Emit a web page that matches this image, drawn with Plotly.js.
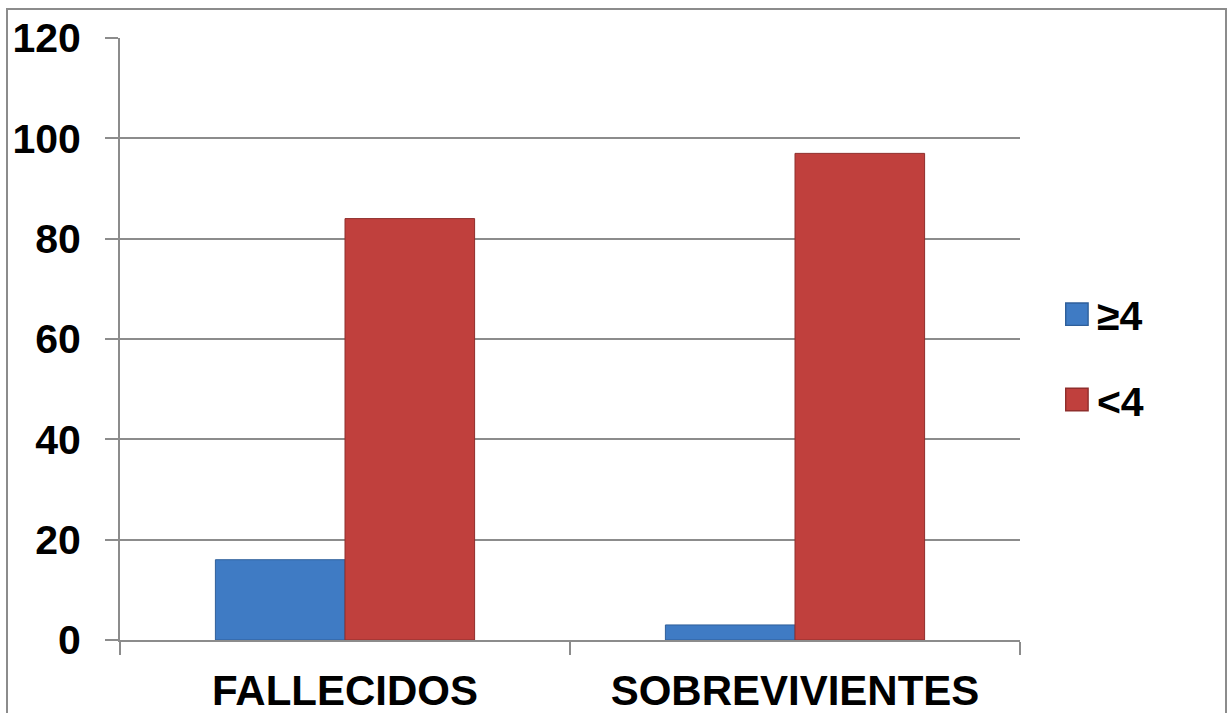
<!DOCTYPE html>
<html>
<head>
<meta charset="utf-8">
<script src="https://cdn.plot.ly/plotly-3.0.1.min.js"></script>
<style>
html,body{margin:0;padding:0;background:#fff;overflow:hidden;}
#frame{position:absolute;left:6px;top:8px;width:1221px;height:760px;border:2px solid #8c8c8c;border-bottom:none;box-sizing:border-box;pointer-events:none;z-index:5;}
#chart{position:absolute;left:0;top:0;width:1231px;height:713px;}
</style>
</head>
<body>
<div id="chart"></div>
<div id="frame"></div>
<script>
const categories = ["FALLECIDOS", "SOBREVIVIENTES"];
const seriesNames = ["≥4", "<4"];
const valuesGE4 = [16, 3];
const valuesLT4 = [84, 97];
const yTicks = [0, 20, 40, 60, 80, 100, 120];

const blue = "#3f7bc4", red = "#c0403d";
const font = "Liberation Sans, Arial, sans-serif";

const traces = [
  {type:"bar", x:categories, y:valuesGE4, name:seriesNames[0], showlegend:false,
   marker:{color:blue, line:{color:"#2f5f9a", width:1}}},
  {type:"bar", x:categories, y:valuesLT4, name:seriesNames[1], showlegend:false,
   marker:{color:red, line:{color:"#8f2e2c", width:1}}},
  {type:"scatter", mode:"markers", x:[null], y:[null], name:seriesNames[0], legendgroup:"a",
   marker:{symbol:"square", size:16, color:blue, line:{color:"#2f5f9a", width:1}}},
  {type:"scatter", mode:"markers", x:[null], y:[null], name:seriesNames[1], legendgroup:"b",
   marker:{symbol:"square", size:16, color:red, line:{color:"#8f2e2c", width:1}}}
];

const layout = {
  width:1231, height:713,
  margin:{l:120, r:211, t:38, b:73},
  paper_bgcolor:"#fff", plot_bgcolor:"#fff",
  barmode:"group", bargap:0.424, bargroupgap:0,
  font:{family:font, color:"#000"},
  showlegend:true,
  legend:{x:1.041, y:0.47, xanchor:"left", yanchor:"middle", traceorder:"grouped", tracegroupgap:29,
          font:{family:font, size:41, weight:"bold", color:"#000"}, bgcolor:"rgba(0,0,0,0)", itemwidth:30},
  xaxis:{type:"category", showgrid:false, showline:true, linecolor:"#8c8c8c", linewidth:2,
         ticks:"outside", tickson:"boundaries", ticklen:13, tickcolor:"#8c8c8c", tickwidth:2,
         tickfont:{family:font, size:42, weight:"bold", color:"#000"}, ticklabelstandoff:13, zeroline:false},
  yaxis:{range:[0,120], tickvals:yTicks, ticktext:yTicks.map(String), showgrid:true, gridcolor:"#8c8c8c", gridwidth:2,
         showline:true, linecolor:"#8c8c8c", linewidth:2, ticks:"outside", ticklen:13, tickcolor:"#8c8c8c", tickwidth:2,
         tickfont:{family:font, size:41, weight:"bold", color:"#000"}, ticklabelstandoff:16, zeroline:false, fixedrange:true}
};

Plotly.newPlot("chart", traces, layout, {displayModeBar:false, staticPlot:true}).then(function(gd){
  gd.querySelectorAll(".legend .legendpoints path.scatterpts").forEach(function(p){
    const t = p.getAttribute("transform") || "";
    p.setAttribute("transform", t + " scale(1.4)");
  });
});
</script>
</body>
</html>
